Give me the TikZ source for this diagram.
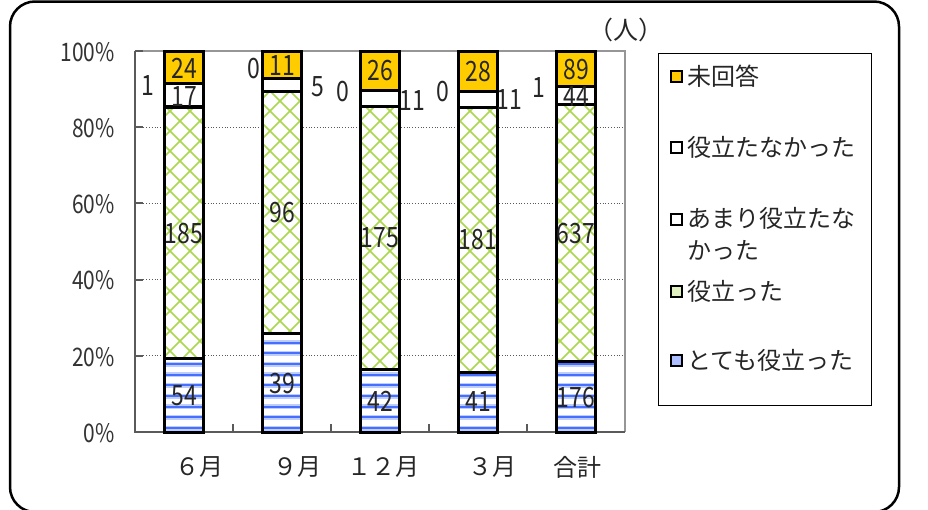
\documentclass[tikz,border=0pt]{standalone}
\usepackage{fontspec}
\setmainfont{Noto Sans CJK JP}
\newfontfamily\numfont[FakeStretch=0.82]{Noto Sans CJK JP}
\usepackage{tikz}
\usetikzlibrary{positioning}
\definecolor{miyellow}{RGB}{255,204,0}
\definecolor{hatchgreen}{RGB}{170,215,75}
\definecolor{stripeblue}{RGB}{70,110,255}
\definecolor{stripehalo}{RGB}{190,205,255}
\definecolor{axisgray}{RGB}{90,90,90}
\definecolor{framegray}{RGB}{150,150,150}
\begin{document}
\begin{tikzpicture}[x=1pt,y=-1pt,line join=miter,
  segbox/.style={draw=black,line width=3pt},
  gridln/.style={draw=axisgray,line width=0.8pt,dotted},
  datalbl/.style={font=\numfont\fontsize{28}{28}\selectfont,inner sep=0pt,text=black!85},
  axislbl/.style={font=\numfont\fontsize{25.5}{25.5}\selectfont,inner sep=0pt,anchor=east,text=black!80},
  catlbl/.style={font=\fontsize{24}{24}\selectfont,inner sep=0pt,text=black!85},
  legtext/.style={font=\fontsize{24}{32}\selectfont,inner sep=0pt,anchor=west,align=left,text=black!85},
  legmark/.style={draw=black,line width=2pt,minimum size=11pt,inner sep=0pt}]
\useasboundingbox (0,0) rectangle (928,509);
\clip (0,0) rectangle (928,509);
\draw[line width=2.5pt,rounded corners=25pt] (10,1.5) rectangle (899,512);
\foreach \g in {127.2,203.4,279.6,355.8} \draw[gridln] (135,\g) -- (625,\g);
\draw[framegray,line width=1.2pt] (135,51) -- (625,51) -- (625,432);
\draw[axisgray,line width=2pt] (135,51) -- (135,432) -- (625,432);
\foreach \g in {51,127.2,203.4,279.6,355.8} \draw[axisgray,line width=2pt] (135,\g) -- (143,\g);
\foreach \t in {233,331,429,527} \draw[axisgray,line width=1.5pt] (\t,432) -- (\t,424);
\foreach \c in {184,282,380,478,576} \fill[white] (\c-19.5,51) rectangle (\c+19.5,432);
\begin{scope}
\clip (164.5,358.78) rectangle (203.5,432) (262.5,333.60) rectangle (301.5,432) (360.5,369.00) rectangle (399.5,432) (458.5,372.15) rectangle (497.5,432) (556.5,361.19) rectangle (595.5,432);
\foreach \s in {0,...,10} {
  \draw[stripehalo,line width=5pt] (135,{332+10.67*\s}) -- (625,{332+10.67*\s});
  \draw[stripeblue,line width=2pt] (135,{332+10.67*\s}) -- (625,{332+10.67*\s});
}
\end{scope}
\begin{scope}
\clip (164.5,107.95) rectangle (203.5,358.78) (262.5,91.37) rectangle (301.5,333.60) (360.5,106.50) rectangle (399.5,369.00) (458.5,107.93) rectangle (497.5,372.15) (556.5,104.91) rectangle (595.5,361.19);
\foreach \a in {-270,-250,...,1010} {
  \draw[hatchgreen,line width=1.6pt] (\a,51) -- ++(381,381);
  \draw[hatchgreen,line width=1.6pt] (\a,51) -- ++(-381,381);
}
\end{scope}
\draw[segbox] (164.5,358.78) rectangle (203.5,432);
\draw[segbox] (164.5,107.95) rectangle (203.5,358.78);
\draw[segbox,fill=white] (164.5,106.59) rectangle (203.5,107.95);
\draw[segbox,fill=white] (164.5,83.54) rectangle (203.5,106.59);
\draw[segbox,fill=miyellow] (164.5,51) rectangle (203.5,83.54);
\draw[segbox] (262.5,333.60) rectangle (301.5,432);
\draw[segbox] (262.5,91.37) rectangle (301.5,333.60);
\draw[segbox,fill=white] (262.5,78.76) rectangle (301.5,91.37);
\draw[segbox,fill=miyellow] (262.5,51) rectangle (301.5,78.76);
\draw[segbox] (360.5,369.00) rectangle (399.5,432);
\draw[segbox] (360.5,106.50) rectangle (399.5,369.00);
\draw[segbox,fill=white] (360.5,90.00) rectangle (399.5,106.50);
\draw[segbox,fill=miyellow] (360.5,51) rectangle (399.5,90.00);
\draw[segbox] (458.5,372.15) rectangle (497.5,432);
\draw[segbox] (458.5,107.93) rectangle (497.5,372.15);
\draw[segbox,fill=white] (458.5,91.87) rectangle (497.5,107.93);
\draw[segbox,fill=miyellow] (458.5,51) rectangle (497.5,91.87);
\draw[segbox] (556.5,361.19) rectangle (595.5,432);
\draw[segbox] (556.5,104.91) rectangle (595.5,361.19);
\draw[segbox,fill=white] (556.5,104.51) rectangle (595.5,104.91);
\draw[segbox,fill=white] (556.5,86.81) rectangle (595.5,104.51);
\draw[segbox,fill=miyellow] (556.5,51) rectangle (595.5,86.81);
\node[datalbl] (jun-totemo) at (184,396) {54};
\node[datalbl] (jun-yaku) at (184,234) {185};
\node[datalbl] (jun-amari) at (148,86) {1};
\node[datalbl] (jun-nai) at (184,97) {17};
\node[datalbl] (jun-mi) at (184,68) {24};
\node[datalbl] (sep-totemo) at (282,384) {39};
\node[datalbl] (sep-yaku) at (282,213) {96};
\node[datalbl] (sep-amari) at (254,69) {0};
\node[datalbl] (sep-nai) at (317.5,86.5) {5};
\node[datalbl] (sep-mi) at (282,65.5) {11};
\node[datalbl] (dec-totemo) at (380,401) {42};
\node[datalbl] (dec-yaku) at (380,238) {175};
\node[datalbl] (dec-amari) at (342.5,91.5) {0};
\node[datalbl] (dec-nai) at (412,101) {11};
\node[datalbl] (dec-mi) at (380,71) {26};
\node[datalbl] (mar-totemo) at (478,402) {41};
\node[datalbl] (mar-yaku) at (478,240) {181};
\node[datalbl] (mar-amari) at (442.5,92) {0};
\node[datalbl] (mar-nai) at (509,100) {11};
\node[datalbl] (mar-mi) at (478,72) {28};
\node[datalbl] (tot-totemo) at (576,397.5) {176};
\node[datalbl] (tot-yaku) at (576,234) {637};
\node[datalbl] (tot-amari) at (539,87.5) {1};
\node[datalbl] (tot-nai) at (576,97) {44};
\node[datalbl] (tot-mi) at (576,69.5) {89};
\node[axislbl] (p100) at (115,52) {100\%};
\node[axislbl] (p80) at (115,128.5) {80\%};
\node[axislbl] (p60) at (115,204.5) {60\%};
\node[axislbl] (p40) at (115,280.5) {40\%};
\node[axislbl] (p20) at (115,357) {20\%};
\node[axislbl] (p0) at (115,433) {0\%};
\node[catlbl] (c-jun) at (199,467) {６月};
\node[catlbl] (c-sep) at (297,467) {９月};
\node[catlbl] (c-dec) at (383,467) {１２月};
\node[catlbl] (c-mar) at (492,467) {３月};
\node[catlbl] (c-tot) at (577,467) {合計};
\node[font=\fontsize{25}{25}\selectfont,inner sep=0pt,text=black!85] (unit) at (626,30) {（人）};
\draw[line width=1pt] (658,53) rectangle (871,405);
\node[legmark,fill=miyellow] (m-mi) at (676.5,76) {};
\node[legtext,right=4pt of m-mi] (t-mi) {未回答};
\node[legmark,fill=white] (m-nai) at (676.5,147) {};
\node[legtext,right=4pt of m-nai] (t-nai) {役立たなかった};
\node[legmark,fill=white] (m-amari) at (676.5,219) {};
\node[legtext,right=4pt of m-amari,yshift=-15pt] (t-amari) {あまり役立たな\\かった};
\node[legmark,fill=hatchgreen!35!white] (m-yaku) at (676.5,291) {};
\node[legtext,right=4pt of m-yaku] (t-yaku) {役立った};
\node[legmark,fill=stripeblue!45!white] (m-totemo) at (676.5,360) {};
\node[legtext,right=4pt of m-totemo] (t-totemo) {とても役立った};
\end{tikzpicture}
\end{document}
